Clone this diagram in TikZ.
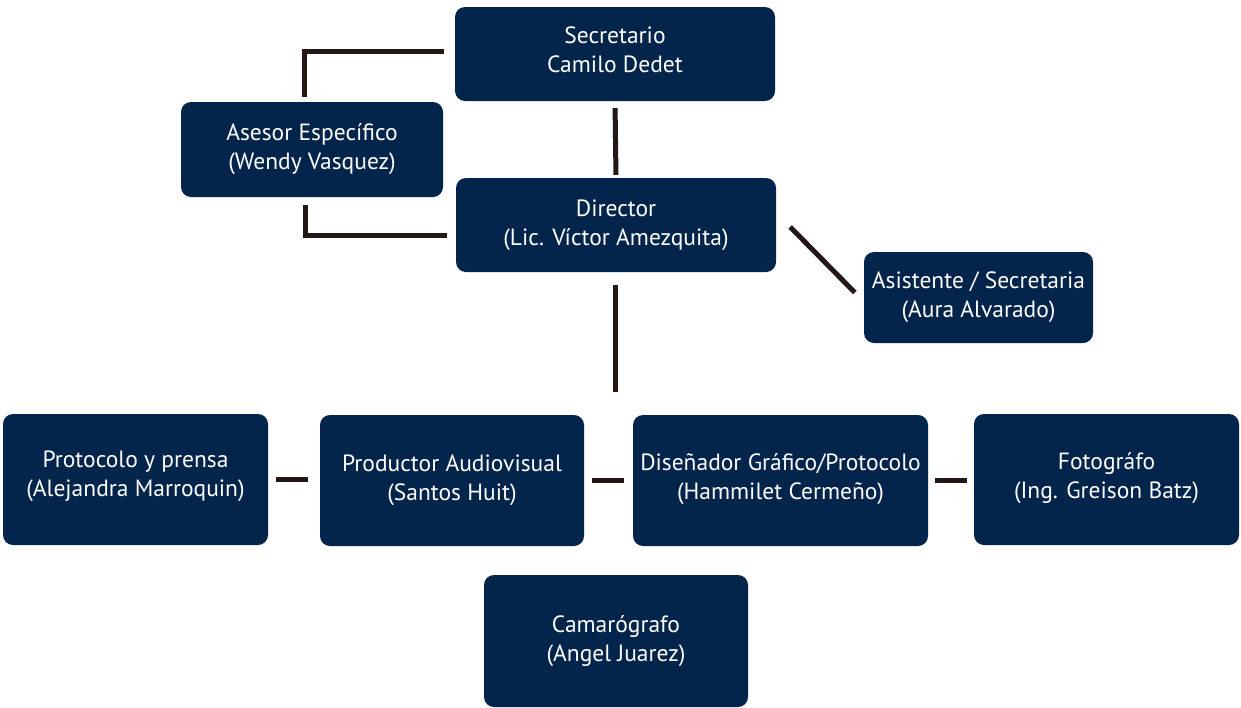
\documentclass[tikz,border=0pt]{standalone}
\usepackage{fontspec}
\setmainfont{PT Sans}
\usetikzlibrary{positioning}

\definecolor{navy}{HTML}{03244B}
\definecolor{ink}{HTML}{231815}

\begin{document}
\begin{tikzpicture}[x=1pt,y=1pt,
		post/.style={draw=none, fill=navy, rounded corners=10pt, text=white, align=center,
			font=\fontsize{23.5}{29}\selectfont, inner sep=0pt},
		link/.style={draw=ink, line width=5pt}]
		\useasboundingbox (0,0) rectangle (1241,-707);
		%Notation: post boxes, placed at their centres (y grows downward)
		\node[post, minimum width=320pt, minimum height=94pt] (sec) at (615,-54) {Secretario\\Camilo Dedet\\[-21pt]};
		\node[post, minimum width=262pt, minimum height=95pt] (ase) at (312,-149.5) {Asesor Específico\\(Wendy Vasquez)};
		\node[post, minimum width=320pt, minimum height=94pt] (dir) at (616,-225) {Director\\(Lic. Víctor Amezquita)};
		\node[post, minimum width=229pt, minimum height=91pt] (asi) at (978.5,-297.5) {Asistente / Secretaria\\(Aura Alvarado)};
		% Bottom row
		\node[post, minimum width=265pt, minimum height=131pt] (pro) at (135.5,-479.5) {Protocolo y prensa\\(Alejandra Marroquin)\\[-17pt]};
		\node[post, minimum width=264pt, minimum height=131pt] (prod) at (452,-480.5) {Productor Audiovisual\\(Santos Huit)};
		\node[post, minimum width=295pt, minimum height=131pt] (dis) at (780.5,-480.5) {Diseñador Gráfico/Protocolo\\(Hammilet Cermeño)\\[-21pt]};
		\node[post, minimum width=265pt, minimum height=131pt] (fot) at (1106.5,-479.5) {Fotográfo\\(Ing. Greison Batz)\\[-21pt]};
		\node[post, minimum width=264pt, minimum height=132pt] (cam) at (616,-641) {Camarógrafo\\(Angel Juarez)};
		\coordinate (hub) at (615,-392);% free end under the director

		% Connectors
		\draw[link, shorten <=7pt, shorten >=3pt] (sec.south) -- (dir.north);
		\draw[link, shorten <=11pt, shorten >=5pt] ([yshift=3pt]sec.west) -| ([xshift=-8pt]ase.north);
		\draw[link, shorten <=8pt, shorten >=9pt] ([xshift=-7pt]ase.south) |- ([yshift=-10pt]dir.west);
		\draw[link] ([xshift=14pt,yshift=-2pt]dir.east) -- ([xshift=-9pt,yshift=5pt]asi.west);
		\draw[link, shorten <=13pt] ([xshift=-1pt]dir.south) -- (hub);
		\draw[link, shorten <=8pt, shorten >=12pt] (pro.east) -- ([yshift=1pt]prod.west);
		\draw[link, shorten <=8pt, shorten >=9pt] (prod.east) -- (dis.west);
		\draw[link, shorten <=7pt, shorten >=7pt] (dis.east) -- ([yshift=-1pt]fot.west);
	\end{tikzpicture}
\end{document}
